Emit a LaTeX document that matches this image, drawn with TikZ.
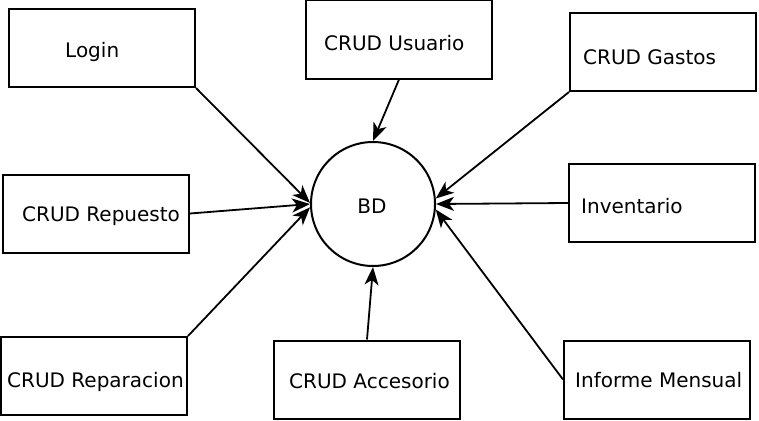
\documentclass[tikz,border=0pt]{standalone}
\usepackage{fontspec}
\setmainfont{DejaVu Sans}
\usetikzlibrary{arrows.meta}
\begin{document}
\begin{tikzpicture}[x=1pt,y=-1pt,
  box/.style={draw,line width=2pt,minimum width=186pt,minimum height=78pt,inner sep=0pt},
  lbl/.style={anchor=mid west,inner sep=0pt,font=\fontsize{20}{24}\selectfont},
  conn/.style={line width=1.8pt,-{Stealth[length=18pt,width=14pt,inset=5pt]}}]
\useasboundingbox (0,0) rectangle (759,420);
\node[box] (login) at (102,48) {};
\node[box] (usuario) at (399,39.5) {};
\node[box] (gastos) at (663,52) {};
\node[box] (repuesto) at (96,213.5) {};
\node[box] (inventario) at (662,203) {};
\node[box] (reparacion) at (94,376) {};
\node[box] (accesorio) at (367,379.5) {};
\node[box] (informe) at (657,379.5) {};
\node[draw,circle,line width=2pt,minimum size=124pt,inner sep=0pt] (bd) at (373,204) {};
\node[font=\fontsize{20}{24}\selectfont] (bdt) at (372,206) {BD};
\node[lbl] (t1) at (65,55) {Login};
\node[lbl] (t2) at (324,48) {CRUD Usuario};
\node[lbl] (t3) at (583,62) {CRUD Gastos};
\node[lbl] (t4) at (22,219) {CRUD Repuesto};
\node[lbl] (t5) at (581,211) {Inventario};
\node[lbl] (t6) at (7,385) {CRUD Reparacion};
\node[lbl] (t7) at (289,386) {CRUD Accesorio};
\node[lbl] (t8) at (575,385) {Informe Mensual};
\draw[conn] (login.south east) -- (bd.179);
\draw[conn] (usuario.south) -- (bd.90);
\draw[conn] (gastos.south west) -- (bd.5);
\draw[conn] (repuesto.east) -- (bd.180);
\draw[conn] (inventario.west) -- (bd.0);
\draw[conn] (reparacion.north east) -- (bd.183);
\draw[conn] (accesorio.north) -- (bd.270);
\draw[conn] (informe.west) -- (bd.-5);
\end{tikzpicture}
\end{document}
